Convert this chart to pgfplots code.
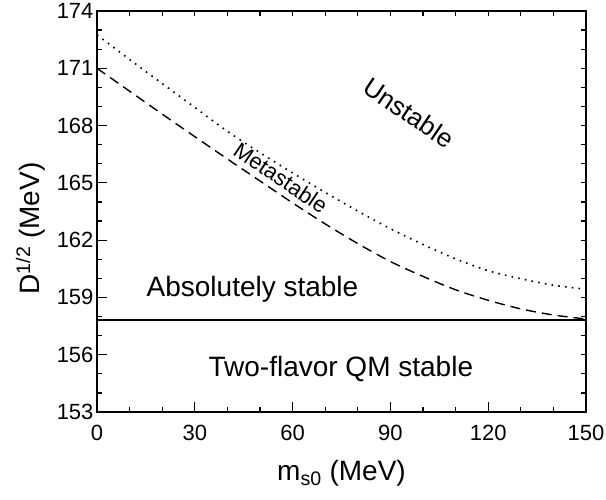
\documentclass[border=0pt]{standalone}
\usepackage{fontspec}
\setmainfont{Liberation Sans}
\usepackage{pgfplots}
\pgfplotsset{compat=1.18}

\begin{document}
\begin{tikzpicture}
    % main axis: ticks and labels on left and bottom
    \begin{axis}[
        scale only axis,
        width=489pt, height=401pt,
        xmin=0, xmax=150,
        ymin=153, ymax=174,
        xtick={0,30,...,150},
        ytick={153,156,...,174},
        minor x tick num=2,
        minor y tick num=2,
        xtick pos=left, ytick pos=left,
        tick align=inside,
        major tick length=10pt,
        minor tick length=5pt,
        every tick/.style={black, line width=1.2pt},
        axis line style={line width=1.5pt},
        /pgf/number format/assume math mode=true,
        tick label style={font=\fontsize{22}{24}\selectfont},
        xticklabel style={yshift=-10pt},
        xlabel={m\textsubscript{s0} (MeV)},
        ylabel={D\textsuperscript{1/2} (MeV)},
        label style={font=\fontsize{28}{30}\selectfont},
        xlabel style={yshift=-12pt},
        ylabel style={yshift=5pt, xshift=-17pt},
        clip=false,
    ]
    \coordinate (SW) at (rel axis cs:0,0);
    \coordinate (NE) at (rel axis cs:1,1);

    % dotted: unstable / metastable boundary
    \addplot[black, line width=1.6pt, dash pattern=on 1.6pt off 5.2pt, smooth] coordinates {
        (0,172.75) (10,171.46) (20,170.20) (30,168.95) (40,167.70)
        (50,166.58) (60,165.52) (70,164.50) (80,163.52) (90,162.60)
        (100,161.77) (110,161.02) (120,160.40) (130,159.98) (140,159.64)
        (150,159.43)
    };

    % dashed: metastable / absolutely stable boundary
    \addplot[black, line width=1.4pt, dash pattern=on 10pt off 6pt, smooth] coordinates {
        (0,171.00) (10,169.80) (20,168.60) (30,167.42) (40,166.25)
        (50,165.10) (60,163.95) (70,162.85) (80,161.82) (90,160.88)
        (100,160.10) (110,159.40) (120,158.85) (130,158.40) (140,158.08)
        (150,157.87)
    };

    % solid: two-flavor QM line
    \addplot[black, line width=1.4pt] coordinates {(0,157.82) (150,157.82)};

    \node[rotate=-34, font=\fontsize{26}{28}\selectfont] at (axis cs:95.7,168.66) {Unstable};
    \node[rotate=-34, font=\fontsize{22}{24}\selectfont] at (axis cs:56.4,165.26) {Metastable};
    \node[anchor=base, font=\fontsize{28}{30}\selectfont] at (axis cs:47.7,159.04) {Absolutely stable};
    \node[anchor=base, font=\fontsize{28}{30}\selectfont] at (axis cs:74.8,154.85) {Two-flavor QM stable};
    \end{axis}

    % mirror axis: short ticks on top and right
    \begin{axis}[
        scale only axis,
        width=489pt, height=401pt,
        xmin=0, xmax=150,
        ymin=153, ymax=174,
        xtick={0,10,...,150},
        ytick={153,154,...,174},
        xticklabels={}, yticklabels={},
        xtick pos=right, ytick pos=right,
        tick align=inside,
        major tick length=5pt,
        every tick/.style={black, line width=1.2pt},
        axis line style={line width=1.5pt},
    ]
    \end{axis}

    \pgfresetboundingbox
    \path[use as bounding box] ([shift={(-97pt,-88pt)}]SW) rectangle ([shift={(20pt,11pt)}]NE);
\end{tikzpicture}
\end{document}
